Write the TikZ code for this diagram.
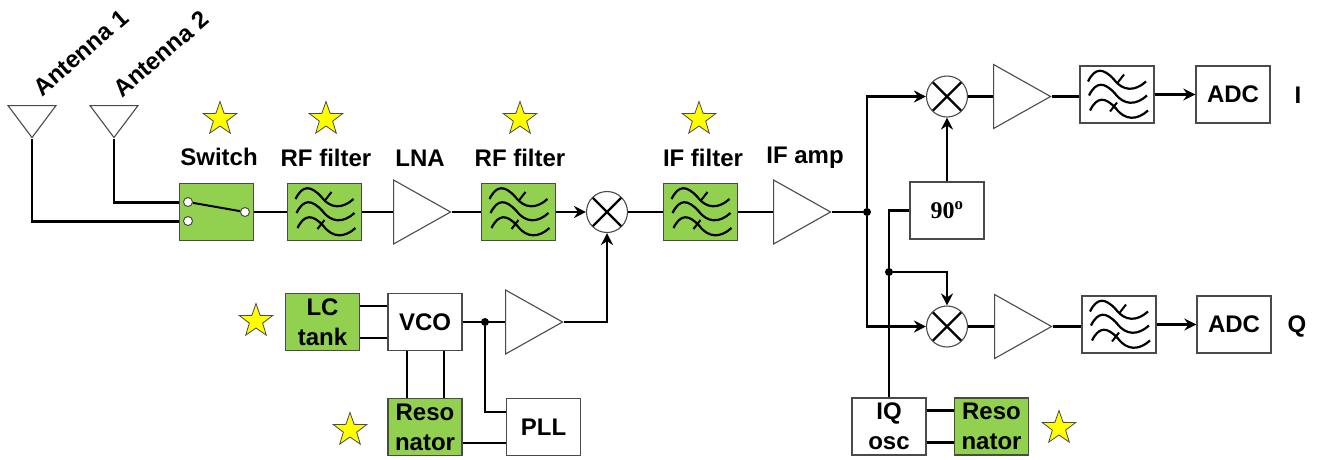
\documentclass[tikz,border=0pt]{standalone}
\usepackage{fontspec}
\setmainfont{Liberation Sans}
\newfontfamily\degfont{Liberation Serif}
\usetikzlibrary{arrows.meta,positioning,shapes.geometric}
\definecolor{leaf}{HTML}{92D050}
\definecolor{rim}{HTML}{4A4A4A}
\definecolor{gold}{HTML}{FFFF00}
\tikzset{
  block/.style={draw=rim, line width=1.3pt, fill=#1, align=center, inner sep=0pt,
                minimum width=74pt, minimum height=57pt, font=\fontsize{24}{30}\selectfont\bfseries},
  block/.default=white,
  amp/.style={isosceles triangle, isosceles triangle stretches, draw=rim, line width=1.1pt, fill=white,
              inner sep=0pt, minimum width=64pt, minimum height=57pt},
  aerial/.style={isosceles triangle, isosceles triangle stretches, shape border rotate=-90, draw=rim,
                 line width=1.1pt, fill=white, inner sep=0pt, minimum width=48pt, minimum height=32pt},
  mixer/.style={circle, draw=rim, line width=1.1pt, fill=white, inner sep=0pt, minimum size=41pt,
                path picture={
                  \draw[black, line width=2.4pt] (path picture bounding box.north west) -- (path picture bounding box.south east);
                  \draw[black, line width=2.4pt] (path picture bounding box.south west) -- (path picture bounding box.north east);}},
  prize/.style={star, star points=5, star point ratio=2.5, draw=rim, line width=0.8pt, fill=gold,
                inner sep=0pt, minimum size=35pt},
  lbl/.style={font=\fontsize{24}{30}\selectfont\bfseries, inner sep=0pt},
  dot/.style={circle, fill=black, inner sep=0pt, minimum size=8pt},
  contact/.style={circle, draw=rim, line width=1pt, fill=white, inner sep=0pt, minimum size=9pt},
  wire/.style={line width=2.6pt, draw=black},
  arr/.style={-{Stealth[length=12pt, width=12pt, inset=4pt]}, line width=2.6pt, draw=black},
  wavy/.pic={
    \foreach \dx/\dy in {0/0, 1/14, 2/29}
      \draw[line width=2.2pt, shift={(\dx,\dy)}] (-29,-13) .. controls (-22,-27) and (-14,-27) .. (-3,-15) .. controls (6,-3) and (18,-3) .. (29,-13);
    \draw[line width=2pt] (0,-11) -- (7,-20);
    \draw[line width=2pt] (-7,17) -- (0,8);
  },
}
\begin{document}
\begin{tikzpicture}[x=1pt, y=-1pt]
\useasboundingbox (0,0) rectangle (1317,459);

% front end
\node[aerial, anchor=apex] (ant1) at (32,139) {};
\node[aerial, anchor=apex] (ant2) at (114,139) {};
\node[lbl, rotate=41] (ant1txt) at (81,53) {Antenna 1};
\node[lbl, rotate=41] (ant2txt) at (161,54) {Antenna 2};
\node[block=leaf] (switch) at (216.5,212) {};
\node[block=leaf] (rf1) at (324.5,212) {};
\node[amp, anchor=apex] (lna) at (452,212) {};
\node[block=leaf] (rf2) at (518.5,212) {};
\node[mixer] (mix) at (607,212) {};
\node[block=leaf] (iff) at (700.5,212) {};
\node[amp, anchor=apex] (ifamp) at (832,212) {};
\node[dot] (split) at (867,212) {};

% switch contacts
\node[contact] (c1) at (188,202) {};
\node[contact] (c2) at (188,221) {};
\node[contact] (c3) at (245,212) {};

% labels over the chain
\node[lbl] (swtxt) at (219,157) {Switch};
\node[lbl] (rf1txt) at (326,158) {RF filter};
\node[lbl] (lnatxt) at (420,158) {LNA};
\node[lbl] (rf2txt) at (520,158) {RF filter};
\node[lbl] (ifftxt) at (703,158) {IF filter};
\node[lbl] (amptxt) at (805,158) {IF amp};

% local oscillator
\node[block=leaf] (lc) at (322.5,322) {LC\\tank};
\node[block] (vco) at (425,322) {VCO};
\node[amp, anchor=apex] (loamp) at (564,322) {};
\node[dot] (lodot) at (485,322) {};
\node[block=leaf] (res1) at (425,427) {Reso\\nator};
\node[block] (pll) at (543.5,427) {PLL};

% I and Q paths
\node[mixer] (mixi) at (947,96.5) {};
\node[amp, anchor=apex] (ampi) at (1052,96.5) {};
\node[block] (fili) at (1117,94.5) {};
\node[block] (adci) at (1233,94.5) {ADC};
\node[lbl] (itxt) at (1298,95) {I};
\node[block, font=\fontsize{24}{30}\selectfont\bfseries\degfont] (shift) at (947,210.5) {90\textsuperscript{o}};
\node[dot] (qdot) at (889,272) {};
\node[mixer] (mixq) at (947,326.5) {};
\node[amp, anchor=apex] (ampq) at (1053,326.5) {};
\node[block] (filq) at (1119,324.5) {};
\node[block] (adcq) at (1234,324.5) {ADC};
\node[lbl] (qtxt) at (1297,326) {Q};
\node[block] (iq) at (889,426.5) {IQ\\osc};
\node[block=leaf] (res2) at (991.5,426.5) {Reso\\nator};

% stars
\node[prize] (s1) at (220,119) {};
\node[prize] (s2) at (326,119) {};
\node[prize] (s3) at (520,119) {};
\node[prize] (s4) at (699,119) {};
\node[prize] (s5) at (256,321) {};
\node[prize] (s6) at (350,430) {};
\node[prize] (s7) at (1059,428) {};

% filter marks
\foreach \f in {rf1,rf2,iff,fili,filq}
  \pic at (\f) {wavy};

\draw[line width=2pt] (c1) -- (c3);
\draw[wire] (ant1.apex) |- ([yshift=-9.5pt]switch.west);
\draw[wire] (ant2.apex) |- ([yshift=9.5pt]switch.west);
\draw[wire] (switch) -- (rf1);
\draw[wire] (rf1) -- (lna.west);
\draw[wire] (lna.apex) -- (rf2);
\draw[arr] (rf2) -- (mix);
\draw[wire] (mix) -- (iff);
\draw[wire] (iff) -- (ifamp.west);
\draw[wire] (ifamp.apex) -- (split);

\draw[wire] ([yshift=16pt]lc.east) -- ([yshift=16pt]vco.west);
\draw[wire] ([yshift=-16pt]lc.east) -- ([yshift=-16pt]vco.west);
\draw[wire] (vco) -- (loamp.west);
\draw[arr] (loamp.apex) -| (mix);
\draw[wire] ([xshift=-18pt]vco.south) -- ([xshift=-18pt]res1.north);
\draw[wire] ([xshift=19pt]vco.south) -- ([xshift=19pt]res1.north);
\draw[wire] (lodot) |- ([yshift=15pt]pll.west);
\draw[wire] ([yshift=-16pt]res1.east) -- ([yshift=-16pt]pll.west);

\draw[arr] (split) |- (mixi);
\draw[arr] (split) |- (mixq);
\draw[arr] (shift) -- (mixi);
\draw[wire] (shift.west) -| (iq.north);
\draw[arr] (qdot) -| (mixq);
\draw[wire] (mixi) -- (ampi.west);
\draw[wire] (ampi.apex) -- (ampi.apex -| fili.west);
\draw[arr] (fili) -- (adci);
\draw[wire] (mixq) -- (ampq.west);
\draw[wire] (ampq.apex) -- (ampq.apex -| filq.west);
\draw[arr] (filq) -- (adcq);
\draw[wire] ([yshift=16pt]iq.east) -- ([yshift=16pt]res2.west);
\draw[wire] ([yshift=-16pt]iq.east) -- ([yshift=-16pt]res2.west);
\end{tikzpicture}
\end{document}
